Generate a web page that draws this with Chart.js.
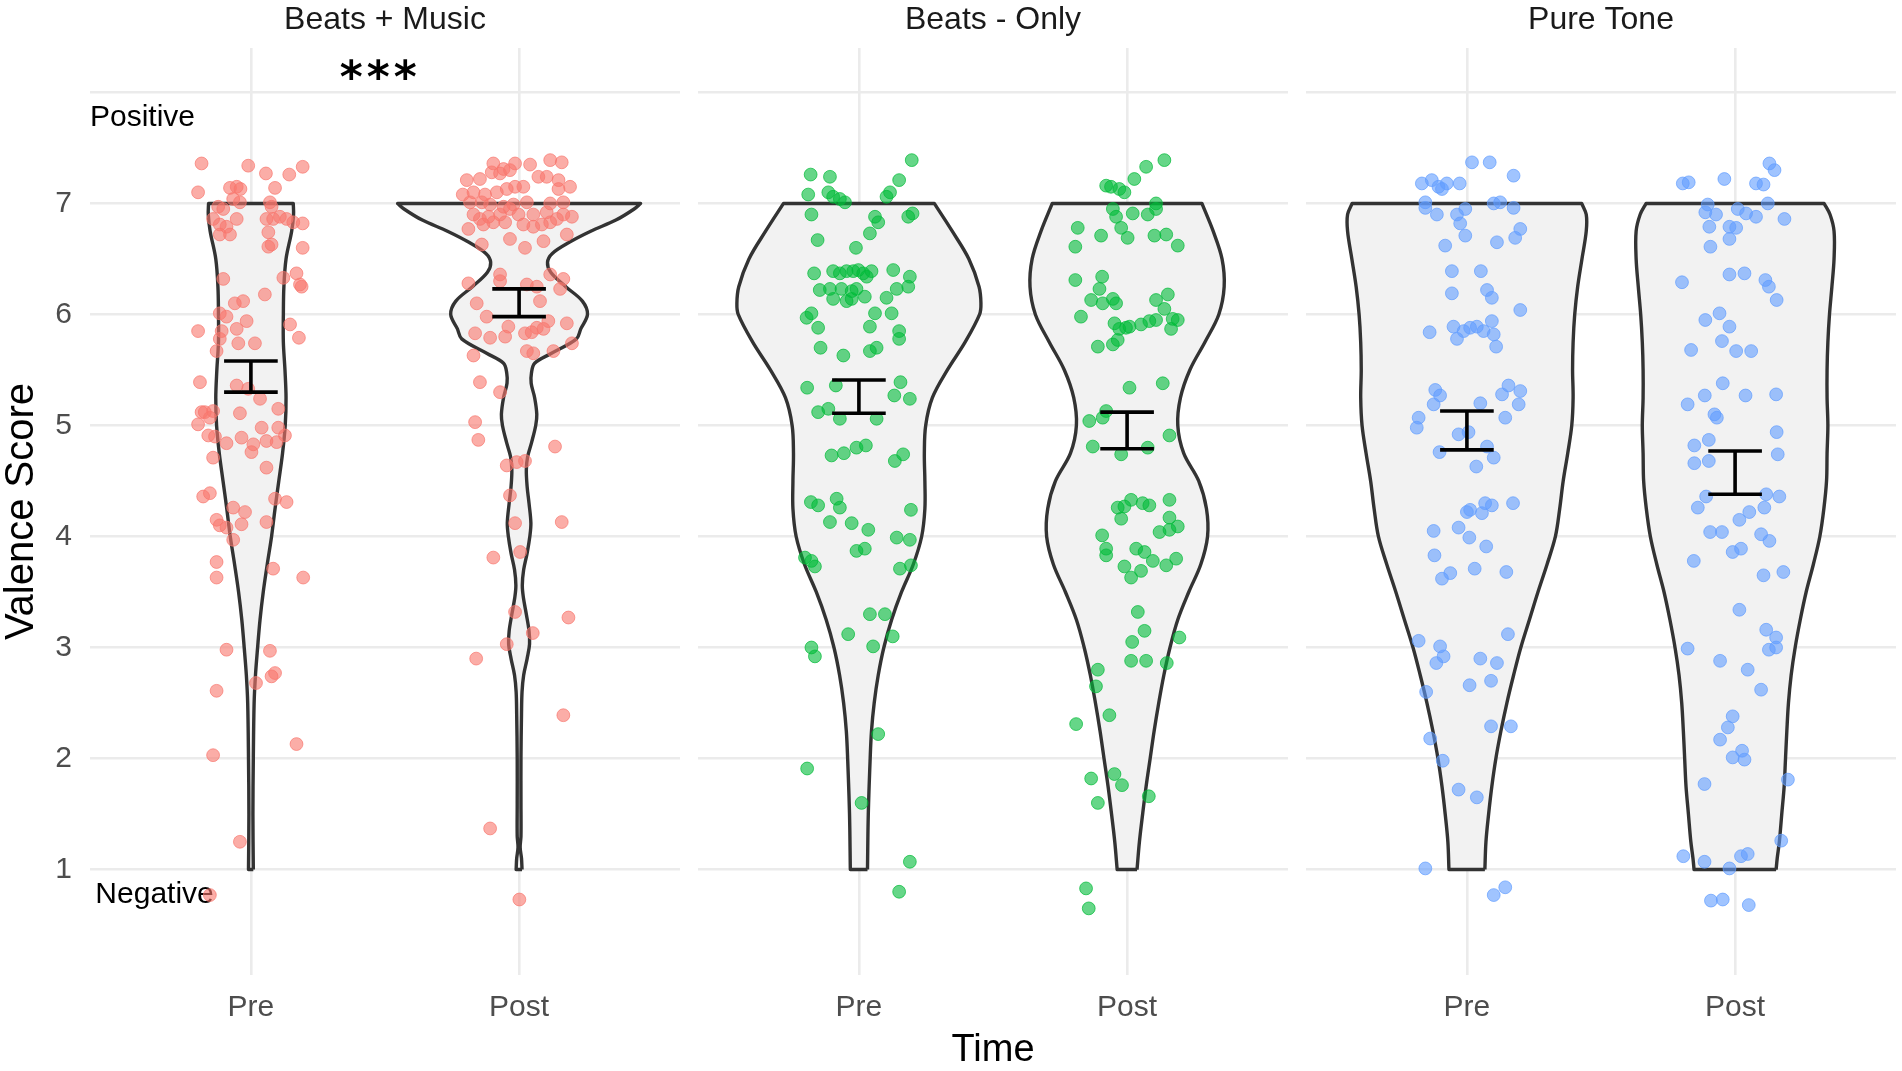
<!DOCTYPE html>
<html>
<head>
<meta charset="utf-8">
<script src="https://cdn.jsdelivr.net/npm/chart.js@4.4.1/dist/chart.umd.min.js"></script>
<style>
html,body{margin:0;padding:0;background:#fff;width:1902px;height:1071px;overflow:hidden;}
canvas{position:absolute;top:0;}
</style>
</head>
<body>
<canvas id="c1" width="680" height="1071" style="left:0px"></canvas>
<canvas id="c2" width="590" height="1071" style="left:698px"></canvas>
<canvas id="c3" width="590" height="1071" style="left:1306px"></canvas>
<script>
// ---------------- data ----------------
const facetTitles = ["Beats + Music", "Beats - Only", "Pure Tone"];
const categories = ["Pre", "Post"];
const yTickLabels = [1, 2, 3, 4, 5, 6, 7];
const yGridValues = [1, 2, 3, 4, 5, 6, 7, 8];
const axisTitleX = "Time";
const axisTitleY = "Valence Score";
const significance = "***";
const labelPositive = "Positive";
const labelNegative = "Negative";

// mean ± SE (error bars) per facet: [Pre, Post]
const seLow  = [[5.30, 5.98], [5.11, 4.79], [4.78, 4.38]];
const seHigh = [[5.58, 6.23], [5.41, 5.12], [5.13, 4.77]];

// violin density profiles: y values and half-widths (x units)
const vY_bmPre = [1.0,1.5,2.0,2.5,2.75,3.0,3.25,3.5,3.75,4.0,4.25,4.5,4.75,5.0,5.25,5.5,5.75,6.0,6.25,6.5,6.75,6.9,7.0];
const vW_bmPre = [0.009,0.0075,0.009,0.012,0.017,0.025,0.034,0.046,0.061,0.077,0.090,0.104,0.118,0.128,0.131,0.127,0.121,0.121,0.123,0.131,0.152,0.159,0.158];

const vY_bmPost = [1.0,1.1,1.2,1.3,1.6,2.0,2.4,2.6,2.75,2.9,3.03,3.15,3.3,3.45,3.56,3.7,3.85,4.0,4.12,4.3,4.45,4.6,4.72,4.85,5.0,5.1,5.25,5.38,5.47,5.56,5.65,5.78,5.87,6.0,6.12,6.25,6.38,6.47,6.55,6.65,6.75,6.85,6.95,7.0];
const vW_bmPost = [0.011,0.009,0.004,0.007,0.007,0.007,0.009,0.011,0.017,0.030,0.039,0.037,0.027,0.016,0.012,0.017,0.030,0.040,0.044,0.037,0.030,0.027,0.032,0.047,0.062,0.066,0.058,0.045,0.046,0.058,0.121,0.214,0.230,0.255,0.236,0.174,0.118,0.106,0.124,0.187,0.267,0.361,0.429,0.453];

const vY_boPre = [1.0,1.5,2.0,2.25,2.5,2.75,3.0,3.25,3.5,3.75,4.0,4.25,4.5,4.75,5.0,5.25,5.5,5.75,6.0,6.1,6.25,6.5,6.75,7.0];
const vW_boPre = [0.032,0.035,0.042,0.047,0.057,0.072,0.093,0.122,0.159,0.203,0.234,0.246,0.246,0.244,0.249,0.274,0.330,0.396,0.450,0.455,0.448,0.410,0.348,0.281];

const vY_boPost = [1.0,1.25,1.5,1.75,2.0,2.25,2.5,2.75,3.0,3.25,3.5,3.75,4.0,4.25,4.5,4.75,5.0,5.25,5.5,5.75,6.0,6.25,6.5,6.75,7.0];
const vW_boPost = [0.037,0.046,0.058,0.071,0.086,0.101,0.118,0.137,0.160,0.189,0.230,0.275,0.300,0.296,0.267,0.211,0.189,0.199,0.234,0.290,0.342,0.362,0.354,0.321,0.279];

const vY_ptPre = [1.0,1.25,1.5,1.75,2.0,2.25,2.5,2.75,3.0,3.25,3.5,3.75,4.0,4.25,4.5,4.75,5.0,5.25,5.5,5.75,6.0,6.25,6.5,6.75,6.9,7.0];
const vW_ptPre = [0.067,0.071,0.081,0.093,0.108,0.127,0.149,0.174,0.201,0.233,0.265,0.299,0.330,0.346,0.359,0.376,0.391,0.396,0.394,0.396,0.402,0.413,0.429,0.445,0.445,0.428];

const vY_ptPost = [1.0,1.1,1.25,1.5,1.75,2.0,2.25,2.5,2.75,3.0,3.25,3.5,3.75,4.0,4.25,4.5,4.75,5.0,5.25,5.5,5.75,6.0,6.25,6.5,6.75,6.9,7.0];
const vW_ptPost = [0.153,0.157,0.165,0.174,0.183,0.188,0.193,0.199,0.209,0.224,0.243,0.265,0.292,0.316,0.331,0.341,0.343,0.346,0.343,0.343,0.346,0.352,0.361,0.369,0.369,0.354,0.332];

// jittered observations: [horizontal offset from category, score]
const pts_bmPre = [[-0.184,7.36],[-0.010,7.34],[0.056,7.27],[0.143,7.26],[0.193,7.33],[-0.197,7.10],[-0.078,7.14],[-0.053,7.15],[-0.039,7.13],[0.090,7.14],[-0.122,6.97],[-0.103,6.95],[-0.066,7.04],[-0.041,7.01],[0.071,7.01],[0.077,6.97],[-0.141,6.86],[-0.116,6.81],[-0.091,6.79],[-0.053,6.86],[0.058,6.86],[0.083,6.86],[0.108,6.88],[0.133,6.86],[0.158,6.83],[0.193,6.82],[-0.116,6.72],[-0.078,6.72],[0.065,6.74],[0.065,6.61],[0.077,6.63],[0.193,6.60],[-0.103,6.32],[0.121,6.33],[0.170,6.37],[0.189,6.25],[0.183,6.27],[0.052,6.18],[-0.060,6.10],[-0.029,6.12],[-0.116,6.01],[-0.091,5.98],[-0.016,5.94],[-0.197,5.85],[-0.109,5.85],[-0.053,5.87],[-0.116,5.78],[0.146,5.91],[0.179,5.79],[-0.047,5.74],[0.015,5.74],[-0.128,5.67],[-0.190,5.39],[-0.053,5.36],[-0.010,5.33],[0.034,5.24],[0.102,5.15],[-0.184,5.12],[-0.172,5.12],[-0.141,5.13],[-0.197,5.01],[-0.153,5.07],[-0.041,5.11],[0.040,4.98],[0.102,4.98],[-0.159,4.91],[-0.134,4.90],[-0.091,4.84],[-0.035,4.89],[0.009,4.83],[0.002,4.76],[0.058,4.86],[0.096,4.85],[0.127,4.91],[-0.141,4.71],[0.058,4.62],[-0.178,4.36],[-0.153,4.39],[-0.066,4.26],[-0.022,4.22],[0.090,4.34],[0.133,4.31],[-0.128,4.15],[-0.116,4.10],[-0.091,4.08],[-0.035,4.11],[0.058,4.13],[-0.066,3.97],[-0.128,3.77],[-0.128,3.63],[0.083,3.71],[0.195,3.63],[-0.091,2.98],[0.071,2.97],[0.090,2.77],[0.077,2.74],[0.019,2.68],[-0.128,2.61],[0.170,2.13],[-0.141,2.03],[-0.041,1.25],[-0.153,0.77]];

const pts_bmPost = [[-0.096,7.36],[-0.058,7.31],[-0.015,7.36],[0.041,7.35],[0.116,7.39],[0.159,7.37],[-0.195,7.21],[-0.146,7.22],[-0.102,7.28],[-0.071,7.27],[-0.034,7.30],[0.072,7.24],[0.103,7.24],[0.147,7.21],[-0.210,7.08],[-0.170,7.10],[-0.127,7.08],[-0.083,7.10],[-0.046,7.13],[-0.015,7.15],[0.016,7.15],[0.147,7.13],[0.190,7.15],[-0.183,7.01],[-0.139,7.01],[-0.108,6.99],[-0.058,6.97],[-0.021,6.99],[0.029,7.01],[0.116,7.00],[0.165,7.01],[-0.170,6.90],[-0.146,6.86],[-0.114,6.88],[-0.071,6.90],[-0.034,6.95],[-0.002,6.90],[0.053,6.90],[0.103,6.92],[0.165,6.90],[0.197,6.88],[-0.189,6.77],[-0.133,6.81],[-0.096,6.83],[-0.052,6.83],[0.016,6.81],[0.053,6.79],[0.085,6.81],[0.116,6.83],[0.141,6.86],[0.178,6.72],[-0.139,6.63],[-0.034,6.68],[0.022,6.60],[0.091,6.66],[-0.189,6.28],[-0.071,6.36],[-0.071,6.30],[0.029,6.27],[0.066,6.25],[0.116,6.36],[0.165,6.32],[0.153,6.23],[-0.158,6.10],[-0.121,5.98],[0.078,6.12],[-0.164,5.83],[-0.108,5.79],[-0.052,5.80],[-0.040,5.89],[0.022,5.83],[0.047,5.84],[0.066,5.88],[0.091,5.87],[0.109,5.94],[0.178,5.92],[0.197,5.74],[-0.170,5.63],[0.029,5.67],[0.053,5.65],[0.128,5.67],[-0.146,5.39],[-0.071,5.30],[-0.164,5.03],[-0.152,4.87],[0.134,4.81],[-0.046,4.64],[-0.009,4.67],[0.022,4.68],[-0.034,4.37],[-0.015,4.12],[0.159,4.13],[-0.096,3.81],[0.004,3.86],[-0.015,3.32],[0.184,3.27],[0.051,3.13],[-0.046,3.03],[-0.160,2.90],[0.165,2.39],[-0.108,1.37],[0.001,0.73]];

const pts_boPre = [[-0.180,7.26],[-0.108,7.24],[0.197,7.39],[0.150,7.21],[-0.189,7.08],[-0.114,7.10],[-0.096,7.06],[-0.071,7.04],[-0.052,7.01],[0.103,7.06],[0.116,7.10],[-0.177,6.90],[0.060,6.88],[0.072,6.83],[0.041,6.73],[0.184,6.88],[0.200,6.91],[-0.154,6.67],[-0.011,6.60],[-0.167,6.37],[-0.096,6.39],[-0.071,6.37],[-0.046,6.39],[-0.021,6.39],[-0.002,6.40],[0.016,6.37],[0.029,6.34],[0.047,6.39],[0.128,6.40],[0.190,6.34],[0.184,6.25],[-0.146,6.22],[-0.108,6.23],[-0.065,6.23],[-0.027,6.21],[-0.009,6.23],[0.022,6.16],[-0.096,6.14],[-0.046,6.12],[-0.027,6.14],[0.103,6.15],[0.141,6.23],[-0.195,5.97],[-0.177,6.01],[-0.152,5.88],[0.060,6.01],[0.122,6.01],[0.041,5.89],[0.150,5.85],[0.150,5.78],[-0.143,5.70],[-0.058,5.63],[0.041,5.67],[0.066,5.70],[-0.193,5.34],[-0.086,5.36],[0.155,5.39],[0.132,5.27],[0.190,5.24],[-0.152,5.12],[-0.114,5.15],[-0.071,5.06],[0.066,5.06],[-0.102,4.73],[-0.056,4.75],[-0.009,4.80],[0.026,4.82],[0.134,4.68],[0.165,4.74],[-0.179,4.31],[-0.152,4.28],[-0.083,4.34],[-0.071,4.26],[-0.108,4.13],[-0.027,4.12],[0.035,4.06],[0.194,4.24],[0.141,3.99],[0.190,3.97],[-0.201,3.81],[-0.177,3.78],[-0.164,3.73],[-0.009,3.87],[0.022,3.89],[0.153,3.71],[0.194,3.74],[0.041,3.30],[0.097,3.30],[-0.040,3.12],[0.053,3.01],[0.126,3.10],[-0.177,3.00],[-0.164,2.92],[0.072,2.22],[-0.193,1.91],[0.010,1.60],[0.190,1.07],[0.150,0.80]];

const pts_boPost = [[0.139,7.39],[0.071,7.33],[0.027,7.22],[-0.078,7.16],[-0.060,7.15],[-0.029,7.13],[-0.010,7.10],[0.108,7.00],[-0.053,6.95],[-0.041,6.88],[0.021,6.91],[0.077,6.90],[0.108,6.95],[-0.184,6.78],[-0.022,6.78],[0.002,6.69],[-0.097,6.71],[0.102,6.71],[0.146,6.72],[0.189,6.62],[-0.193,6.61],[-0.193,6.31],[-0.093,6.34],[-0.103,6.23],[-0.134,6.13],[-0.091,6.10],[-0.053,6.14],[-0.041,6.10],[0.108,6.13],[0.152,6.18],[0.139,6.05],[-0.172,5.98],[-0.047,5.92],[-0.029,5.87],[-0.004,5.88],[0.009,5.89],[0.052,5.91],[0.083,5.94],[0.108,5.95],[0.170,5.96],[0.189,5.95],[0.164,5.87],[-0.109,5.71],[-0.053,5.73],[-0.035,5.77],[0.009,5.34],[0.133,5.38],[-0.141,5.04],[-0.091,5.07],[-0.078,5.13],[-0.128,4.81],[-0.022,4.74],[0.077,4.80],[0.158,4.91],[-0.035,4.26],[-0.010,4.27],[0.015,4.33],[0.058,4.30],[0.083,4.28],[0.158,4.33],[-0.022,4.16],[0.158,4.17],[0.121,4.04],[0.158,4.06],[0.189,4.09],[-0.093,4.01],[-0.078,3.89],[-0.078,3.83],[0.034,3.89],[0.065,3.86],[0.096,3.78],[0.146,3.74],[0.183,3.80],[-0.010,3.73],[0.015,3.63],[0.052,3.69],[0.040,3.32],[0.065,3.15],[0.019,3.05],[0.195,3.09],[0.015,2.88],[0.071,2.88],[0.148,2.86],[-0.109,2.80],[-0.116,2.65],[-0.066,2.39],[-0.190,2.31],[-0.134,1.82],[-0.047,1.86],[-0.019,1.76],[-0.109,1.60],[0.081,1.66],[-0.153,0.83],[-0.143,0.65]];

const pts_ptPre = [[0.019,7.37],[0.085,7.37],[0.174,7.25],[-0.168,7.18],[-0.131,7.21],[-0.106,7.15],[-0.093,7.13],[-0.075,7.18],[-0.027,7.18],[-0.155,7.01],[-0.155,6.96],[-0.112,6.90],[-0.037,6.90],[-0.006,6.95],[0.100,7.00],[0.124,7.01],[0.174,6.96],[-0.025,6.82],[-0.006,6.71],[0.199,6.77],[0.180,6.69],[-0.081,6.62],[0.112,6.65],[-0.056,6.39],[0.052,6.39],[-0.056,6.19],[0.075,6.22],[0.093,6.15],[0.199,6.04],[-0.139,5.84],[-0.050,5.89],[-0.037,5.78],[-0.012,5.85],[0.012,5.88],[0.037,5.89],[0.062,5.85],[0.093,5.94],[0.100,5.82],[0.109,5.71],[-0.118,5.32],[-0.100,5.27],[-0.124,5.19],[0.050,5.20],[0.131,5.28],[0.155,5.36],[0.199,5.31],[0.193,5.19],[0.143,5.07],[-0.180,5.07],[-0.187,4.98],[-0.031,4.92],[0.006,4.94],[0.075,4.81],[0.100,4.71],[-0.102,4.76],[0.035,4.63],[0.000,4.22],[0.012,4.24],[0.056,4.21],[0.068,4.30],[0.093,4.28],[0.172,4.30],[-0.124,4.05],[-0.031,4.08],[0.009,3.99],[0.072,3.91],[-0.121,3.83],[-0.093,3.62],[-0.062,3.67],[0.029,3.71],[0.147,3.68],[-0.180,3.06],[-0.100,3.01],[-0.087,2.92],[-0.114,2.86],[0.050,2.90],[0.112,2.86],[0.090,2.70],[0.153,3.12],[0.010,2.66],[-0.152,2.60],[0.090,2.29],[0.164,2.29],[-0.137,2.18],[-0.090,1.98],[-0.031,1.72],[0.037,1.65],[-0.155,1.01],[0.100,0.77],[0.143,0.84]];

const pts_ptPost = [[0.128,7.36],[0.147,7.30],[-0.195,7.18],[-0.173,7.19],[-0.040,7.22],[0.078,7.18],[0.106,7.17],[-0.102,6.99],[-0.111,6.92],[-0.071,6.90],[0.010,6.95],[0.041,6.91],[0.078,6.88],[0.122,7.00],[0.184,6.86],[-0.096,6.79],[-0.021,6.79],[0.004,6.78],[-0.021,6.68],[-0.092,6.61],[-0.198,6.29],[-0.021,6.36],[0.035,6.37],[0.113,6.31],[0.126,6.25],[0.155,6.13],[-0.111,5.95],[-0.058,6.01],[-0.021,5.89],[-0.164,5.68],[-0.049,5.76],[0.004,5.67],[0.060,5.67],[-0.046,5.38],[-0.113,5.27],[-0.177,5.19],[-0.077,5.10],[-0.068,5.07],[0.039,5.27],[0.153,5.28],[0.155,4.94],[0.159,4.74],[-0.152,4.82],[-0.152,4.66],[-0.098,4.87],[-0.098,4.68],[-0.108,4.36],[-0.139,4.26],[0.016,4.15],[0.053,4.22],[0.109,4.26],[0.116,4.38],[0.165,4.36],[-0.093,4.04],[-0.049,4.04],[0.097,4.02],[0.128,3.96],[-0.009,3.86],[0.022,3.89],[-0.154,3.78],[0.106,3.65],[0.180,3.68],[0.016,3.34],[0.116,3.16],[0.153,3.09],[0.126,2.98],[0.153,3.00],[-0.177,2.99],[-0.056,2.88],[0.047,2.80],[0.097,2.62],[-0.009,2.38],[-0.027,2.28],[-0.056,2.17],[-0.009,2.01],[0.026,2.07],[0.035,1.99],[-0.114,1.77],[0.197,1.81],[0.172,1.26],[-0.193,1.12],[-0.114,1.07],[-0.021,1.01],[0.022,1.12],[0.047,1.14],[-0.090,0.72],[-0.046,0.73],[0.051,0.68]];

// ---------------- styling ----------------
const FONT = "'Liberation Sans', Arial, Helvetica, sans-serif";
const pointRGB = ["248,118,109", "0,186,56", "97,156,255"];
const facets = [
  { violins: [[vY_bmPre, vW_bmPre], [vY_bmPost, vW_bmPost]], points: [pts_bmPre, pts_bmPost] },
  { violins: [[vY_boPre, vW_boPre], [vY_boPost, vW_boPost]], points: [pts_boPre, pts_boPost] },
  { violins: [[vY_ptPre, vW_ptPre], [vY_ptPost, vW_ptPost]], points: [pts_ptPre, pts_ptPost] }
];

function violinPolygon(c, ys, ws) {
  const n = ys.length;
  const pts = [];
  for (let k = 0; k < n; k++) pts.push({ x: c + ws[k], y: ys[k] });
  pts.push({ x: c + ws[n - 1], y: ys[n - 1] });
  pts.push({ x: c - ws[n - 1], y: ys[n - 1] });
  for (let k = n - 1; k >= 0; k--) pts.push({ x: c - ws[k], y: ys[k] });
  pts.push({ x: c - ws[0], y: ys[0] });
  pts.push({ x: c + ws[0], y: ys[0] });
  return pts;
}

function buildDatasets(fi) {
  const f = facets[fi];
  const ds = [];
  for (let i = 0; i < 2; i++) {
    const c = i + 1;
    ds.push({
      data: violinPolygon(c, f.violins[i][0], f.violins[i][1]),
      showLine: true, fill: 'shape', tension: 0.35,
      backgroundColor: '#f2f2f2', borderColor: '#333333', borderWidth: 3.4,
      borderJoinStyle: 'round', pointRadius: 0, pointHoverRadius: 0, order: 5
    });
    ds.push({
      data: f.points[i].map(p => ({ x: c + p[0], y: p[1] })),
      showLine: false, pointRadius: 6.4, pointHoverRadius: 6.4,
      backgroundColor: 'rgba(' + pointRGB[fi] + ',0.6)',
      borderColor: 'rgba(' + pointRGB[fi] + ',0.7)',
      pointBackgroundColor: 'rgba(' + pointRGB[fi] + ',0.6)',
      pointBorderColor: 'rgba(' + pointRGB[fi] + ',0.7)',
      pointBorderWidth: 1, order: 3
    });
    const lo = seLow[fi][i], hi = seHigh[fi][i], w = 0.1;
    [[{ x: c - w, y: hi }, { x: c + w, y: hi }],
     [{ x: c, y: hi }, { x: c, y: lo }],
     [{ x: c - w, y: lo }, { x: c + w, y: lo }]].forEach(seg => {
      ds.push({ data: seg, showLine: true, borderColor: '#000', borderWidth: 3.6,
        borderCapStyle: 'butt', pointRadius: 0, pointHoverRadius: 0, order: 1 });
    });
  }
  return ds;
}

function textPlugin(fi) {
  return {
    id: 'facetText' + fi,
    beforeDatasetsDraw(chart) {
      if (fi !== 0) return;
      const ctx = chart.ctx, xs = chart.scales.x, ys = chart.scales.y;
      ctx.save();
      ctx.font = '30px ' + FONT;
      ctx.fillStyle = '#000';
      ctx.textAlign = 'left';
      ctx.textBaseline = 'middle';
      ctx.fillText(labelPositive, xs.getPixelForValue(0.40), ys.getPixelForValue(7.77));
      ctx.fillText(labelNegative, xs.getPixelForValue(0.42), ys.getPixelForValue(0.77));
      ctx.restore();
    },
    afterDraw(chart) {
      const ctx = chart.ctx, a = chart.chartArea;
      ctx.save();
      ctx.font = '32px ' + FONT;
      ctx.fillStyle = '#1a1a1a';
      ctx.textAlign = 'center';
      ctx.textBaseline = 'middle';
      ctx.fillText(facetTitles[fi], (a.left + a.right) / 2, 20);
      if (fi === 0) {
        const xs = chart.scales.x, ys = chart.scales.y;
        ctx.font = 'bold 44px "DejaVu Sans", sans-serif';
        ctx.fillStyle = '#000';
        ctx.letterSpacing = '4px';
        ctx.fillText(significance, xs.getPixelForValue(1.475) + 2, ys.getPixelForValue(8.11));
      }
      ctx.restore();
    }
  };
}

function makeChart(id, fi) {
  const first = fi === 0;
  return new Chart(document.getElementById(id), {
    type: 'scatter',
    data: { datasets: buildDatasets(fi) },
    plugins: [textPlugin(fi)],
    options: {
      responsive: false, animation: false, events: [],
      layout: { padding: { top: 48, left: 0, right: 0, bottom: 0 }, autoPadding: false },
      plugins: { legend: { display: false }, tooltip: { enabled: false }, title: { display: false } },
      scales: {
        x: {
          type: 'linear', min: 0.4, max: 2.6,
          afterBuildTicks: s => { s.ticks = categories.map((_, i) => ({ value: i + 1 })); },
          afterFit: s => { s.height = 96; },
          ticks: {
            callback: v => categories[v - 1] || '',
            font: { family: FONT, size: 30 }, color: '#4d4d4d', padding: 15,
            maxRotation: 0, autoSkip: false
          },
          grid: { color: '#ebebeb', lineWidth: 2.6, drawTicks: false },
          border: { display: false },
          title: {
            display: fi === 1, text: axisTitleX,
            font: { family: FONT, size: 38, lineHeight: 1.1 }, color: '#000', padding: 0
          }
        },
        y: {
          type: 'linear', min: 0.05, max: 8.4,
          afterBuildTicks: s => { s.ticks = yGridValues.map(v => ({ value: v })); },
          afterFit: s => { s.width = first ? 90 : 0; },
          ticks: {
            display: first,
            callback: v => yTickLabels.includes(v) ? String(v) : '',
            font: { family: FONT, size: 30 }, color: '#4d4d4d', padding: 18
          },
          grid: { color: '#ebebeb', lineWidth: 2.6, drawTicks: false },
          border: { display: false },
          title: {
            display: first, text: axisTitleY,
            font: { family: FONT, size: 40, lineHeight: 1.1 }, color: '#000', padding: 0
          }
        }
      }
    }
  });
}

makeChart('c1', 0);
makeChart('c2', 1);
makeChart('c3', 2);
</script>
</body>
</html>
